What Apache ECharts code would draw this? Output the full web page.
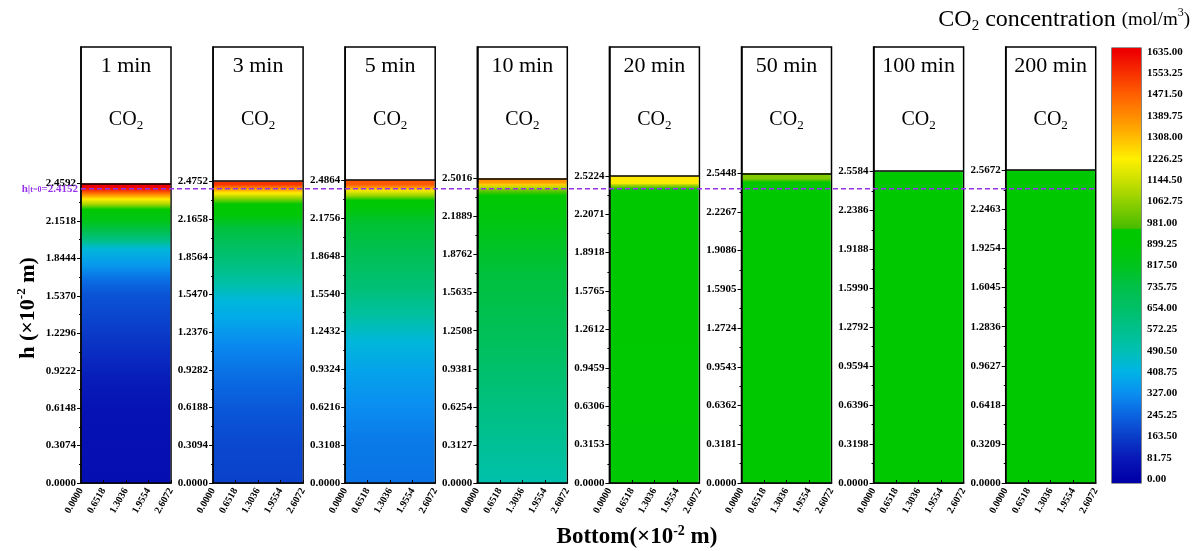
<!DOCTYPE html>
<html>
<head>
<meta charset="utf-8">
<script src="https://cdn.jsdelivr.net/npm/echarts@6/dist/echarts.min.js"></script>
<style>
  html, body { margin: 0; padding: 0; background: #fff; }
  #main { width: 1194px; height: 551px; }
</style>
</head>
<body>
<div id="main"></div>
<script>
// ---- data ----
const TIMES = ['1 min', '3 min', '5 min', '10 min', '20 min', '50 min', '100 min', '200 min'];
const HMAX = [2.4592, 2.4752, 2.4864, 2.5016, 2.5224, 2.5448, 2.5584, 2.5672];
const H_INIT = 2.4152;
const BOTTOM_MAX = 2.6072;
const BOTTOM_STEP = 0.6518;
const CONC_MAX = 1635;
const CONC_STEP = 81.75;

// [h (x10^-2 m), CO2 concentration (mol/m3)]
const PROFILE_1MIN = [[0, 45], [0.59, 60], [0.86, 90], [1.14, 140], [1.36, 180], [1.55, 210], [1.68, 270], [1.79, 350], [1.92, 430], [1.99, 580], [2.07, 720], [2.15, 830], [2.245, 930], [2.29, 1100], [2.33, 1230], [2.37, 1400], [2.41, 1580], [2.43, 1635], [2.4592, 1635]];
const PROFILE_3MIN = [[0, 170], [0.31, 185], [0.59, 215], [0.86, 260], [1.14, 320], [1.36, 390], [1.50, 430], [1.63, 510], [1.79, 600], [1.96, 680], [2.095, 760], [2.20, 880], [2.29, 930], [2.34, 1080], [2.38, 1230], [2.42, 1390], [2.45, 1540], [2.4752, 1550]];
const PROFILE_5MIN = [[0, 275], [0.36, 290], [0.64, 330], [0.91, 370], [1.16, 430], [1.38, 530], [1.60, 620], [1.87, 700], [2.14, 780], [2.25, 870], [2.32, 930], [2.36, 1080], [2.40, 1200], [2.42, 1340], [2.45, 1480], [2.4864, 1490]];
const PROFILE_10MIN = [[0, 505], [0.09, 520], [0.64, 600], [1.19, 690], [1.73, 760], [2.14, 850], [2.36, 920], [2.40, 1000], [2.43, 1130], [2.45, 1280], [2.47, 1370], [2.5016, 1380]];
const PROFILE_20MIN = [[0, 890], [1.2, 900], [2.41, 920], [2.43, 1000], [2.45, 1120], [2.46, 1230], [2.5224, 1235]];
const PROFILE_50MIN = [[0, 900], [2.47, 950], [2.49, 1000], [2.50, 1040], [2.5448, 1045]];
const PROFILE_100MIN = [[0, 920], [2.5584, 930]];
const PROFILE_200MIN = [[0, 920], [2.5672, 930]];
const PROFILES = [PROFILE_1MIN, PROFILE_3MIN, PROFILE_5MIN, PROFILE_10MIN, PROFILE_20MIN, PROFILE_50MIN, PROFILE_100MIN, PROFILE_200MIN];

// colour map of the legend bar
const COLOR_STOPS = [
  [0, '#0000a8'], [80, '#0818b8'], [160, '#0a3cc8'], [245, '#0a64e0'], [327, '#0a8ef0'],
  [410, '#00b4e6'], [490, '#00c0b4'], [572, '#00c08c'], [654, '#00c068'], [735, '#00c048'],
  [817, '#00c41c'], [899, '#00c800'], [955, '#00c800'], [960, '#48bc00'], [1062, '#90d000'],
  [1144, '#cce000'], [1226, '#fff000'], [1308, '#ffbb00'], [1389, '#ff8c00'], [1471, '#ff6000'],
  [1553, '#f83000'], [1635, '#ee0000']
];

// ---- layout ----
const PANEL_LEFT = 81, PANEL_PITCH = 132.1, PANEL_W = 90;
const GRID_TOP = 47, GRID_BOTTOM = 68;
const YTOP = 3.58;
const CBAR_MIN = -15, CBAR_MAX = 1650;
const SERIF = '"Liberation Serif", "Times New Roman", serif';
const PURPLE = '#9632ec';

function concColor(v) {
  if (v <= COLOR_STOPS[0][0]) return COLOR_STOPS[0][1];
  for (let i = 1; i < COLOR_STOPS.length; i++) {
    const [v1, c1] = COLOR_STOPS[i];
    if (v <= v1) {
      const [v0, c0] = COLOR_STOPS[i - 1];
      return echarts.color.lerp((v - v0) / (v1 - v0), [c0, c1]);
    }
  }
  return COLOR_STOPS[COLOR_STOPS.length - 1][1];
}

// whole column as one rect with a multi-stop vertical gradient
function renderColumn(params, api) {
  const hmax = api.value(1);
  const prof = PROFILES[api.value(2)];
  const lo = api.coord([0, 0]);
  const hi = api.coord([BOTTOM_MAX, hmax]);
  const span = lo[1] - hi[1];
  const stops = prof.map(([h, c]) => ({
    offset: Math.min(1, Math.max(0, (api.coord([0, h])[1] - hi[1]) / span)),
    color: concColor(c)
  })).sort((a, b) => a.offset - b.offset);
  return {
    type: 'rect',
    shape: { x: lo[0] + 0.75, y: hi[1], width: hi[0] - lo[0] - 1.5, height: span },
    style: { fill: new echarts.graphic.LinearGradient(0, 0, 0, 1, stops) }
  };
}

function renderBar(params, api) {
  const lo = api.coord([0, CBAR_MIN]);
  const hi = api.coord([1, CBAR_MAX]);
  const span = lo[1] - hi[1];
  const stops = COLOR_STOPS.map(([v, c]) => ({
    offset: (api.coord([0, v])[1] - hi[1]) / span,
    color: c
  })).sort((a, b) => a.offset - b.offset);
  return {
    type: 'rect',
    shape: { x: lo[0], y: hi[1], width: hi[0] - lo[0], height: span },
    style: { fill: new echarts.graphic.LinearGradient(0, 0, 0, 1, stops) }
  };
}

const grid = [], xAxis = [], yAxis = [], series = [], graphic = [];

for (let i = 0; i < TIMES.length; i++) {
  const h = HMAX[i];
  const left = PANEL_LEFT + i * PANEL_PITCH;
  const major = [], minor = [];
  for (let k = 0; k <= 8; k++) major.push(h * k / 8);
  for (let k = 0; k < 8; k++) minor.push(h * (2 * k + 1) / 16);

  grid.push({
    left: left, width: PANEL_W, top: GRID_TOP, bottom: GRID_BOTTOM,
    show: true, backgroundColor: '#fff', borderColor: '#000', borderWidth: 1.5
  });
  xAxis.push({
    gridIndex: i, type: 'value', min: 0, max: BOTTOM_MAX, interval: BOTTOM_STEP, z: 3,
    axisLine: { lineStyle: { color: '#000', width: 1.5 } },
    axisTick: { inside: true, length: 3, lineStyle: { color: '#000' } },
    splitLine: { show: false },
    axisLabel: {
      rotate: 60, margin: 6, fontSize: 10, fontWeight: 'bold', fontFamily: SERIF, color: '#000',
      formatter: v => v.toFixed(4)
    }
  });
  yAxis.push({
    gridIndex: i, type: 'value', position: 'left', min: 0, max: YTOP, z: 3,
    axisLine: { show: true, lineStyle: { color: '#000', width: 1.5 } },
    axisTick: { show: true, length: 4, customValues: major, lineStyle: { color: '#000' } },
    splitLine: { show: false },
    axisLabel: {
      customValues: major, margin: 5, fontSize: 11, fontWeight: 'bold', fontFamily: SERIF, color: '#000',
      formatter: v => v.toFixed(4)
    }
  });
  yAxis.push({
    gridIndex: i, type: 'value', position: 'left', offset: 0, min: 0, max: YTOP, z: 3,
    axisLine: { show: false },
    axisTick: { show: true, length: 2, customValues: minor, lineStyle: { color: '#000' } },
    splitLine: { show: false },
    axisLabel: { show: false }
  });

  series.push({
    type: 'custom', xAxisIndex: i, yAxisIndex: 2 * i, z: 2,
    renderItem: renderColumn, data: [[0, h, i]], silent: true,
    markLine: {
      silent: true, symbol: 'none', label: { show: false },
      lineStyle: { color: '#000', width: 1.5, type: 'solid' },
      data: [{ yAxis: h }]
    }
  });

  const cx = left + PANEL_W / 2;
  graphic.push({
    type: 'text', x: cx, y: 66, z: 10,
    style: { text: TIMES[i], fontSize: 22, fontFamily: SERIF, fill: '#000', align: 'center', verticalAlign: 'middle' }
  });
  graphic.push({
    type: 'text', x: cx, y: 120, z: 10,
    style: {
      text: '{n|CO}{s|2}', align: 'center', verticalAlign: 'middle', fill: '#000',
      rich: {
        n: { fontSize: 20, fontFamily: SERIF, lineHeight: 24, verticalAlign: 'middle' },
        s: { fontSize: 13, fontFamily: SERIF, lineHeight: 13, verticalAlign: 'bottom' }
      }
    }
  });
}

// overlay grid for the initial height line
grid.push({ left: PANEL_LEFT, width: 7 * PANEL_PITCH + PANEL_W, top: GRID_TOP, bottom: GRID_BOTTOM, show: false });
xAxis.push({ gridIndex: 8, type: 'value', min: 0, max: 1, show: false });
yAxis.push({ gridIndex: 8, type: 'value', min: 0, max: YTOP, show: false });

// colour bar grid
const cbarTicks = [];
for (let v = 0; v <= CONC_MAX + 0.01; v += CONC_STEP) cbarTicks.push(v);
grid.push({ left: 1112, width: 29, top: 48, bottom: 68, show: true, borderColor: '#333', borderWidth: 1.2, backgroundColor: '#fff' });
xAxis.push({ gridIndex: 9, type: 'value', min: 0, max: 1, show: false });
yAxis.push({
  gridIndex: 9, type: 'value', min: CBAR_MIN, max: CBAR_MAX, position: 'right',
  axisLine: { show: false },
  axisTick: { show: true, length: 3, customValues: cbarTicks, lineStyle: { color: '#333' } },
  splitLine: { show: false },
  axisLabel: { customValues: cbarTicks, margin: 6, fontSize: 11, fontWeight: 'bold', fontFamily: SERIF, color: '#000', formatter: v => v.toFixed(2) }
});
series.push({ type: 'custom', xAxisIndex: 9, yAxisIndex: 17, renderItem: renderBar, data: [[0, CONC_MAX]], silent: true });

series.push({
  type: 'line', xAxisIndex: 8, yAxisIndex: 16, z: 10, silent: true,
  symbol: 'circle', symbolSize: 0,
  lineStyle: { color: PURPLE, width: 1.5, type: [5, 3] },
  data: [
    {
      value: [0, H_INIT],
      label: {
        show: true, position: 'left', distance: 3,
        formatter: '{a|h|}{s|t=0}{a|=' + H_INIT.toFixed(4) + '}',
        rich: {
          a: { color: PURPLE, fontSize: 11, fontWeight: 'bold', fontFamily: SERIF },
          s: { color: PURPLE, fontSize: 8, fontWeight: 'bold', fontFamily: SERIF, verticalAlign: 'bottom', lineHeight: 8 }
        }
      }
    },
    [1, H_INIT]
  ]
});

// titles
graphic.push({
  type: 'text', x: 1190, y: 20, z: 10,
  style: {
    text: '{a|CO}{b|2}{a| concentration }{c|(mol/m}{d|3}{c|)}', align: 'right', verticalAlign: 'middle', fill: '#000',
    rich: {
      a: { fontSize: 24, fontFamily: SERIF, lineHeight: 27 },
      b: { fontSize: 15, fontFamily: SERIF, verticalAlign: 'bottom', lineHeight: 15 },
      c: { fontSize: 19, fontFamily: SERIF, lineHeight: 27 },
      d: { fontSize: 12, fontFamily: SERIF, verticalAlign: 'top', lineHeight: 12 }
    }
  }
});
graphic.push({
  type: 'text', x: 28, y: 308, rotation: Math.PI / 2, z: 10,
  style: {
    text: '{a|h (×10}{s|-2}{a| m)}', align: 'center', verticalAlign: 'middle', fill: '#000',
    rich: {
      a: { fontSize: 22, fontWeight: 'bold', fontFamily: SERIF, lineHeight: 26 },
      s: { fontSize: 13, fontWeight: 'bold', fontFamily: SERIF, verticalAlign: 'top', lineHeight: 13 }
    }
  }
});
graphic.push({
  type: 'text', x: 637, y: 537, z: 10,
  style: {
    text: '{a|Bottom(×10}{s|-2}{a| m)}', align: 'center', verticalAlign: 'middle', fill: '#000',
    rich: {
      a: { fontSize: 23, fontWeight: 'bold', fontFamily: SERIF, lineHeight: 26 },
      s: { fontSize: 14, fontWeight: 'bold', fontFamily: SERIF, verticalAlign: 'top', lineHeight: 14 }
    }
  }
});

const chart = echarts.init(document.getElementById('main'));
chart.setOption({
  animation: false,
  backgroundColor: '#fff',
  grid: grid,
  xAxis: xAxis,
  yAxis: yAxis,
  series: series,
  graphic: graphic
});
</script>
</body>
</html>
